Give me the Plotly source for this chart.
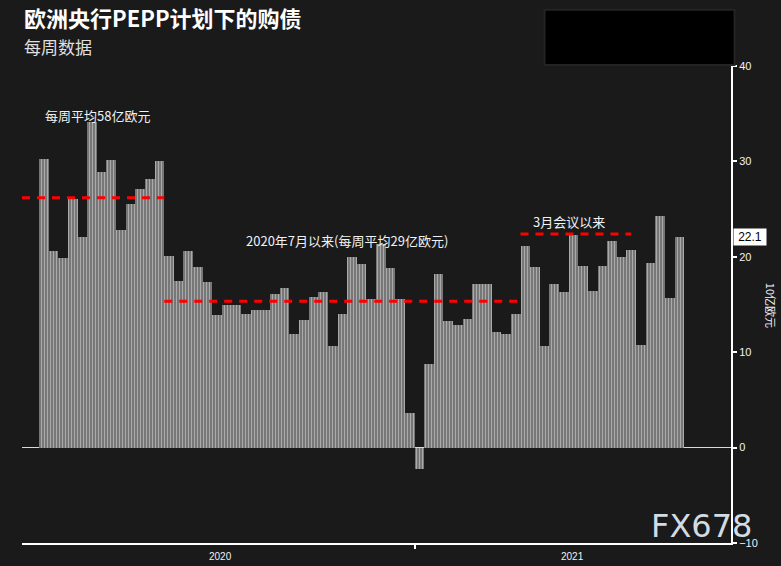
import plotly.graph_objects as go

# ---- data ----
purchases = [30.2, 20.6, 19.9, 26.1, 22.1, 34.1, 28.9, 30.1, 22.8, 25.5,
             27.1, 28.2, 30.0, 20.1, 17.5, 20.6, 18.9, 17.4, 13.9, 15.0,
             15.0, 14.0, 14.4, 14.4, 16.1, 16.7, 11.9, 13.4, 15.8, 16.3,
             10.7, 14.0, 20.0, 19.2, 15.6, 21.3, 18.8, 15.6, 3.6, -2.2,
             8.8, 18.2, 13.3, 12.8, 13.5, 17.1, 17.2, 12.1, 11.9, 14.0,
             21.1, 18.9, 10.7, 17.2, 16.3, 22.3, 19.0, 16.4, 19.0, 21.7,
             20.0, 20.7, 10.8, 19.3, 24.3, 15.7, 22.1]
week_index = list(range(len(purchases)))

avg_values = [26.2, 15.35, 22.4]
avg_start = [-2.27, 12.5, 49.5]
avg_end = [12.5, 49.5, 61.0]
avg_texts = ["每周平均58亿欧元", "2020年7月以来(每周平均29亿欧元)", "3月会议以来"]

year_labels = ["2020", "2021"]
year_label_pos = [18.3, 54.95]
year_boundary = [38.5]

y_ticks = [-10, 0, 10, 20, 30, 40]
last_value_label = "22.1"

BG = "#1a1a1a"
TXT = "#eef2f6"

fig = go.Figure()

fig.add_trace(go.Bar(
    x=week_index, y=purchases,
    marker=dict(color="#6e6e6e",
                line=dict(width=0),
                pattern=dict(shape="|", fgcolor="#eeeeee", bgcolor="#666666",
                             size=3, solidity=0.5)),
    showlegend=False, hoverinfo="y"))

for s, e, v in zip(avg_start, avg_end, avg_values):
    fig.add_trace(go.Scatter(
        x=[s, e], y=[v, v], mode="lines",
        line=dict(color="#ff0000", width=3, dash="8px,7px"),
        showlegend=False, hoverinfo="skip"))

ann_pos = [(5.52, 34.8), (31.5, 21.7), (54.5, 23.7)]
for t, (ax, ay) in zip(avg_texts, ann_pos):
    fig.add_annotation(x=ax, y=ay, text=t, showarrow=False,
                       font=dict(size=13, color=TXT, family="Noto Sans CJK SC"))

for lbl, pos in zip(year_labels, year_label_pos):
    fig.add_annotation(x=pos, y=0, xref="x", yref="paper", yshift=-21,
                       text=lbl, showarrow=False,
                       font=dict(size=10, color=TXT, family="Liberation Sans"))

# last value label on y axis
fig.add_annotation(x=1.0035, xref="paper", y=purchases[-1], yref="y",
                   xanchor="left", text=last_value_label, showarrow=False,
                   bgcolor="white", font=dict(size=12, color="black",
                                              family="Liberation Sans"),
                   borderpad=1, width=30, align="center")

# y-axis title
fig.add_annotation(x=1.07, xref="paper", y=14.9, yref="y",
                   text="10亿欧元", textangle=90, showarrow=False,
                   font=dict(size=11, color=TXT, family="Noto Sans CJK SC"))

# title & subtitle
fig.add_annotation(x=-0.0005, y=1.103, xref="paper", yref="paper",
                   xanchor="left", yanchor="middle",
                   text="<b>欧洲央行PEPP计划下的购债</b>", showarrow=False,
                   font=dict(size=22, color="white", family="Noto Sans CJK SC"))
fig.add_annotation(x=-0.0005, y=1.04, xref="paper", yref="paper",
                   xanchor="left", yanchor="middle",
                   text="每周数据", showarrow=False,
                   font=dict(size=17, color="#e0e0e0", family="Noto Sans CJK SC"))

# watermark
fig.add_annotation(x=1.033, y=0.0, xref="paper", yref="paper",
                   xanchor="right", yanchor="bottom", yshift=-4,
                   text="FX678", showarrow=False,
                   font=dict(size=32, color="#d3dbe3", family="DejaVu Sans"))

# black box at top-right (decorative legend cover)
fig.add_shape(type="rect", xref="paper", yref="paper",
              x0=0.737, x1=1.005, y0=1.002, y1=1.118,
              fillcolor="#000000", line=dict(color="#242424", width=2))

fig.update_layout(
    width=781, height=566,
    paper_bgcolor=BG, plot_bgcolor=BG,
    margin=dict(l=22, r=50, t=66, b=23),
    bargap=0,
    font=dict(family="Liberation Sans", color=TXT),
    xaxis=dict(range=[-2.27, 71.36], showgrid=False, zeroline=False,
               showline=True, linecolor="white", linewidth=2,
               tickmode="array", tickvals=year_boundary, ticktext=[""],
               ticks="outside", ticklen=4, tickwidth=2, tickcolor="white",
               fixedrange=True),
    yaxis=dict(range=[-10, 40], side="right", showgrid=False,
               zeroline=True, zerolinecolor="#d8d8d8", zerolinewidth=1,
               showline=True, linecolor="white", linewidth=2,
               tickmode="array", tickvals=y_ticks,
               ticks="outside", ticklen=4, tickwidth=2, tickcolor="white",
               tickfont=dict(size=11, color=TXT), fixedrange=True),
)

fig.write_html("out.html",
               config={"displayModeBar": False},
               post_script="document.body.style.margin='0';"
                           "document.body.style.background='#1a1a1a';")
